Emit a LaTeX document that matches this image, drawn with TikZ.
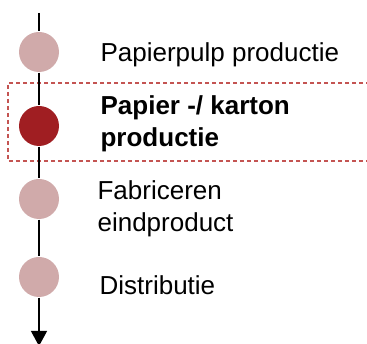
\documentclass[tikz,border=0pt]{standalone}
\usepackage{fontspec}
\setmainfont{Liberation Sans}
\usetikzlibrary{arrows.meta}
\definecolor{dotlight}{RGB}{208,170,170}
\definecolor{dotdark}{RGB}{160,30,34}
\definecolor{framered}{RGB}{196,84,82}
\tikzset{every picture/.style={line width=1.2pt}}
\tikzset{
  dot/.style={circle,fill=dotlight,minimum size=40pt,inner sep=0pt},
  dotactive/.style={dot,fill=dotdark},
  lbl/.style={anchor=base west,inner sep=0pt,align=left,font=\fontsize{26}{32}\selectfont}
}

\begin{document}
\begin{tikzpicture}[x=1pt,y=-1pt]
\useasboundingbox (0,0) rectangle (367,344);
% stage of interest
\draw[framered,dash pattern=on 4pt off 3pt,line width=1.3pt] (370,83) -- (8,83) -- (8,161) -- (370,161);
\coordinate (top) at (39,13);
\coordinate (bottom) at (39,346);
\node[dot] (pulp) at (39,52) {};
\node[dotactive] (papier) at (39,126) {};
\node[dot] (fabr) at (39,199) {};
\node[dot] (distr) at (39,277) {};
\draw (top) -- (pulp);
\draw (pulp) -- (papier);
\draw (papier) -- (fabr);
\draw (fabr) -- (distr);
\draw[-{Triangle[length=15pt,width=16pt]}] (distr) -- (bottom);
% last line of each label sits on the given base
\node[lbl] (tpulp) at (100,62) {Papierpulp productie};
\node[lbl,font=\fontsize{26}{32}\selectfont\bfseries] (tpapier) at (100,147) {Papier -/ karton\\productie};
\node[lbl] (tfabr) at (97,232) {Fabriceren\\eindproduct};
\node[lbl] (tdistr) at (99,295) {Distributie};
\end{tikzpicture}
\end{document}
